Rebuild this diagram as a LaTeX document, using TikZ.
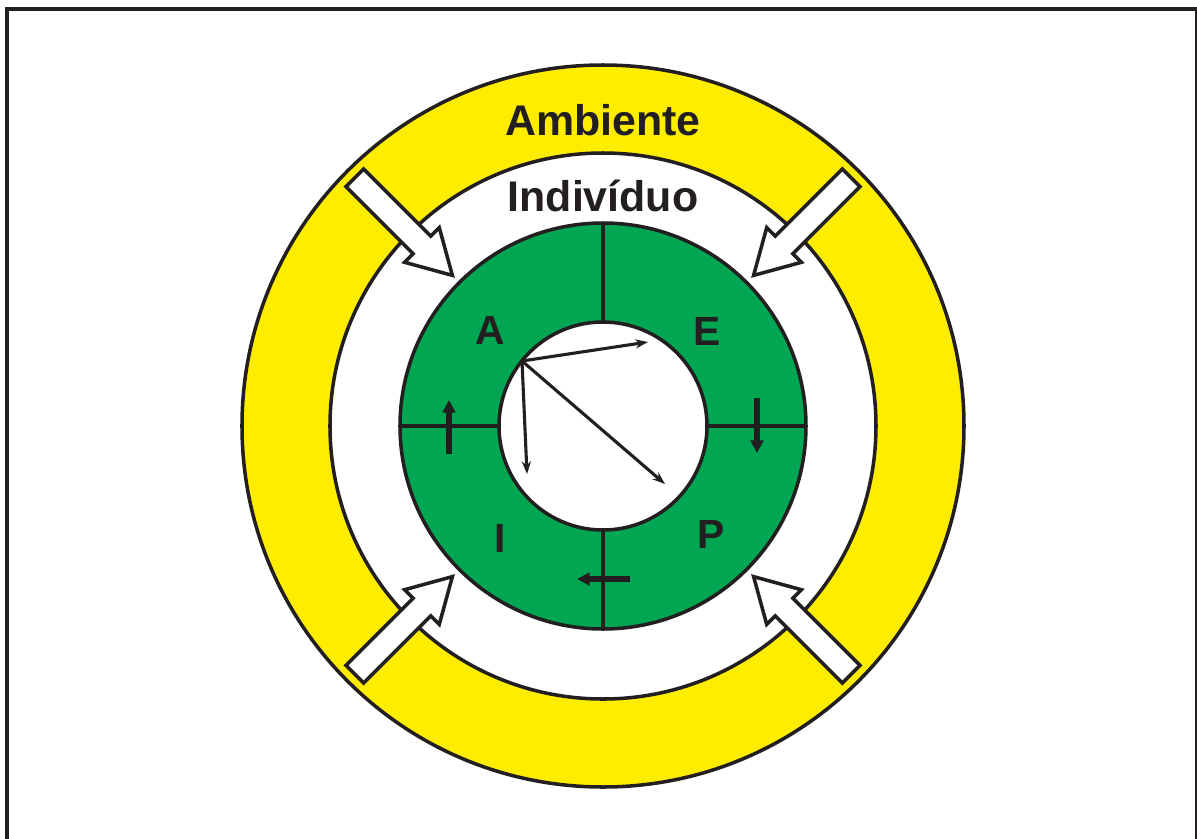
\documentclass[tikz,border=0pt]{standalone}
\usepackage{fontspec}
\setmainfont{Liberation Sans}
\usetikzlibrary{arrows.meta}
\definecolor{amarelo}{RGB}{255,237,0}
\definecolor{verde}{RGB}{0,166,81}
\definecolor{tinta}{RGB}{35,31,32}

\begin{document}
\begin{tikzpicture}[x=0.025cm,y=0.025cm,
	  contorno/.style={draw=tinta,line width=2.5pt},
	  bloco/.style={contorno,fill=white,line join=miter},
	  rotulo/.style={font=\bfseries\fontsize{30.5}{36}\selectfont,text=tinta,anchor=base},
	  letra/.style={font=\bfseries\fontsize{29}{34}\selectfont,text=tinta},
	  giro/.style={draw=tinta,line width=4.4pt,-{Triangle[length=9pt,width=9pt]}},
	  vetor/.style={draw=tinta,line width=2.2pt,-{Stealth[length=9pt,width=6.5pt]}}]

	 \useasboundingbox (-603,-412) rectangle (594,426);
	 % moldura
	 \draw[tinta,line width=2.8pt,line join=miter] (-596,-430) -- (-596,417) -- (593.5,417) -- (593.5,-430);

	 % aneis
	 \draw[contorno,fill=amarelo] (0,0) circle (361);
	 \draw[contorno,fill=white] (0,0) circle (273);
	 \draw[contorno,fill=verde] (0,0) circle (203);
	 \draw[contorno,fill=white] (0,0) circle (104);
	 \foreach \a in {0,90,180,270}
	    \draw[contorno,line width=2.9pt] (\a:104) -- (\a:203);

	 % setas do ambiente
	 \foreach \a in {45,135,225,315}
	    \draw[bloco,rotate=\a] (351,12.5) -- (256,12.5) -- (256,24.5) -- (213,0)
	       -- (256,-24.5) -- (256,-12.5) -- (351,-12.5) -- cycle;

	 \node[rotulo] (amb) at (0,291) {Ambiente};
	 \node[rotulo] (ind) at (0,215) {Indivíduo};

	 \node[letra] (la) at (-113,96) {A};
	 \node[letra] (le) at (104,95) {E};
	 \node[letra] (li) at (-103,-112) {I};
	 \node[letra] (lp) at (108,-108) {P};

	 % setas do ciclo
	 \coordinate (ga1) at (-154,-28);
	 \coordinate (ga2) at (-154,26);
	 \coordinate (ge1) at (154,28);
	 \coordinate (ge2) at (154,-27);
	 \coordinate (gp1) at (27,-153);
	 \coordinate (gp2) at (-26,-153);
	 \draw[giro] (ga1) -- (ga2);
	 \draw[giro] (ge1) -- (ge2);
	 \draw[giro] (gp1) -- (gp2);

	 % vetores
	 \coordinate (o) at (-81,65);
	 \coordinate (v1) at (45,84);
	 \coordinate (v2) at (-76,-48);
	 \coordinate (v3) at (62,-58);
	 \draw[vetor] (o) -- (v1);
	 \draw[vetor] (o) -- (v2);
	 \draw[vetor] (o) -- (v3);
	\end{tikzpicture}
\end{document}
